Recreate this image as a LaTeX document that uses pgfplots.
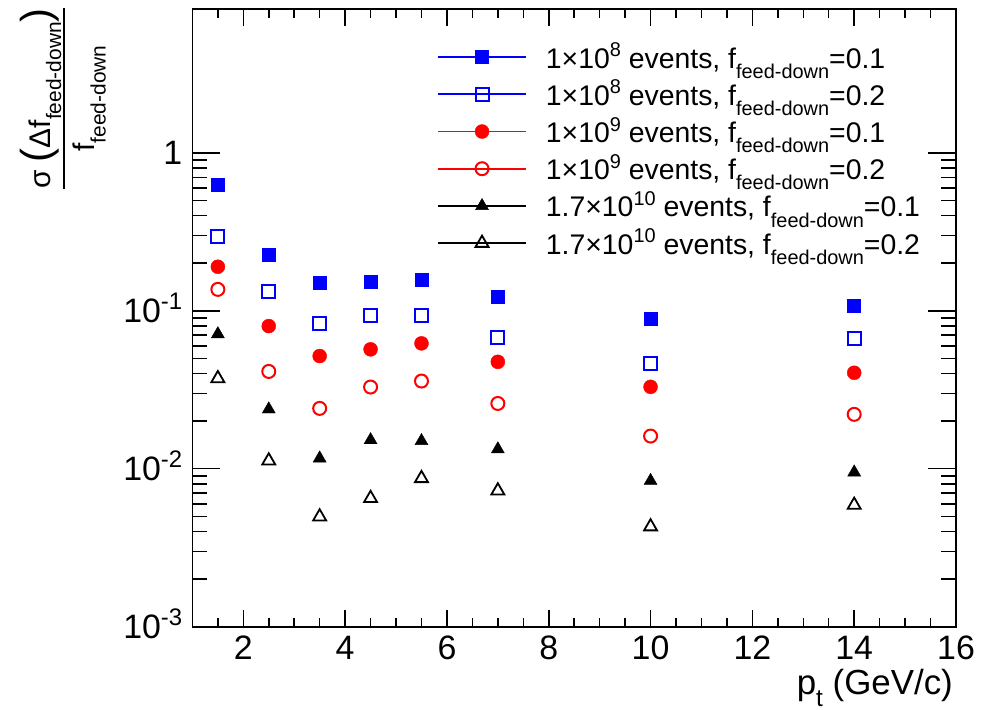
\documentclass[border=0pt]{standalone}
\usepackage{pgfplots}
\pgfplotsset{compat=1.18}
\usepackage{fontspec}
\setmainfont{Liberation Sans}

% lowered / raised small text (size given explicitly)
\newcommand\lo[2]{\raisebox{-0.36em}{\fontsize{#1}{#1}\selectfont #2}}
\newcommand\hi[2]{\raisebox{0.40em}{\fontsize{#1}{#1}\selectfont #2}}

\definecolor{rblue}{RGB}{0,0,255}
\definecolor{rred}{RGB}{255,0,0}

% feed-down fraction uncertainty per pt bin
\pgfplotstableread{
x     a      b       c       d       e        f
1.5   0.631  0.297   0.190   0.1366  0.0712   0.0373
2.5   0.225  0.133   0.080   0.0413  0.0238   0.01124
3.5   0.150  0.0827  0.0517  0.0241  0.01164  0.00497
4.5   0.152  0.0935  0.0570  0.0329  0.0152   0.0065
5.5   0.158  0.0935  0.0622  0.0359  0.0150   0.00869
7     0.123  0.0679  0.0475  0.0259  0.0133   0.00726
10    0.0895 0.0465  0.0330  0.0161  0.00839  0.0043
14    0.1075 0.0665  0.0405  0.0221  0.00949  0.00589
}\fdtable

\begin{document}
\begin{tikzpicture}
\path[use as bounding box] (0,0) rectangle (986bp,710bp);
\begin{axis}[
  at={(192.4bp,83.3bp)}, anchor=south west,
  scale only axis, width=763.6bp, height=617.4bp,
  xmin=1, xmax=16, ymode=log, ymin=1e-3, ymax=8.1,
  xtick={2,4,...,16}, minor xtick={1.5,2,...,16},
  xticklabels={2,4,6,8,10,12,14,16},
  ytick={0.001,0.01,0.1,1},
  yticklabels={10\hi{24}{-3},10\hi{24}{-2},10\hi{24}{-1},1},
  xtick pos=both, ytick pos=both, tick align=inside,
  xtick style={/pgfplots/major tick length=17bp,/pgfplots/minor tick length=9bp},
  ytick style={/pgfplots/major tick length=28bp,/pgfplots/minor tick length=15bp},
  every tick/.style={black, line width=1.5bp},
  axis line style={line width=1.8bp},
  ticklabel style={font=\fontsize{34}{34}\selectfont, inner sep=0pt, text height=24.3bp, text depth=0pt},
  xticklabel style={anchor=north}, xticklabel shift=8bp,
  yticklabel style={anchor=east}, yticklabel shift=10bp,
  legend style={draw=none, fill=none, at={(0.3203,0.953)}, anchor=north west,
    inner sep=0pt, column sep=19bp, row sep=0pt,
    font=\fontsize{28.5}{28.5}\selectfont,
    nodes={inner sep=0pt, text height=29.6bp, text depth=7.6bp}},
  legend cell align=left,
  legend image code/.code={
    \draw[mark=none, line width=1.7bp] (0bp,0bp) -- (88bp,0bp);
    \draw plot coordinates {(44bp,0bp)};
  },
]
\addplot[only marks, mark=square*, color=rblue, mark size=6.5bp] table[x=x,y=a] {\fdtable};
\addlegendentry{1×10\hi{20}{8} events, f\lo{20}{feed-down}=0.1}
\addplot[only marks, mark=square, color=rblue, mark size=6.5bp, line width=2bp] table[x=x,y=b] {\fdtable};
\addlegendentry{1×10\hi{20}{8} events, f\lo{20}{feed-down}=0.2}
\addplot[only marks, mark=*, color=rred, mark size=7bp] table[x=x,y=c] {\fdtable};
\addlegendentry{1×10\hi{20}{9} events, f\lo{20}{feed-down}=0.1}
\addplot[only marks, mark=o, color=rred, mark size=6.5bp, line width=2bp] table[x=x,y=d] {\fdtable};
\addlegendentry{1×10\hi{20}{9} events, f\lo{20}{feed-down}=0.2}
\addplot[only marks, mark=triangle*, color=black, mark size=7.5bp] table[x=x,y=e] {\fdtable};
\addlegendentry{1.7×10\hi{20}{10} events, f\lo{20}{feed-down}=0.1}
\addplot[only marks, mark=triangle, color=black, mark size=7.5bp, line width=1.8bp] table[x=x,y=f] {\fdtable};
\addlegendentry{1.7×10\hi{20}{10} events, f\lo{20}{feed-down}=0.2}
\end{axis}
% axis titles
\node[anchor=base east, inner sep=0pt, font=\fontsize{35}{35}\selectfont] at (953bp,16bp)
  {p\lo{24.5}{t} (GeV/c)};
\node[rotate=90, anchor=east, inner sep=0pt, font=\fontsize{30}{30}\selectfont] at (63bp,702bp)
  {\setlength\arrayrulewidth{1.6bp}\begin{tabular}{@{}c@{}}
   σ {\fontsize{42}{42}\selectfont(}Δf\lo{21}{feed-down}{\fontsize{42}{42}\selectfont)}\\[4bp]\hline
   \rule{0pt}{30bp}f\lo{21}{feed-down}
   \end{tabular}};
\end{tikzpicture}
\end{document}
